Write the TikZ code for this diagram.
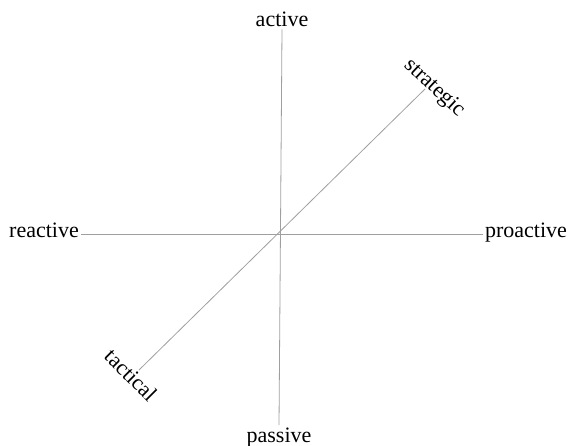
\documentclass[tikz,border=0pt]{standalone}
\usepackage{fontspec}
\setmainfont{Liberation Serif}
\usepackage{tikz}

\begin{document}
\begin{tikzpicture}[
    x=1pt, y=-1pt,
    axislabel/.style={font=\fontsize{22}{26}\selectfont, inner sep=2pt},
    axis/.style={draw=gray!75, line width=0.8pt},
]
\useasboundingbox (0,0) rectangle (569,446);

\node[axislabel, anchor=base] (active)    at (282,27)  {active};
\node[axislabel, anchor=base] (passive)   at (279,442) {passive};
\node[axislabel, anchor=base] (reactive)  at (44,237)  {reactive};
\node[axislabel, anchor=base] (proactive) at (526,237) {proactive};
\node[axislabel, rotate=-43] (strategic) at (434,88)  {strategic};
\node[axislabel, rotate=-45] (tactical)  at (131,375) {tactical};

\coordinate (stratend) at (425,89);
\coordinate (tactend)  at (139,370);

\draw[axis] (active.south) -- (passive.north);
\draw[axis] (reactive.mid east) -- (proactive.mid west);
\draw[axis] (tactend) -- (stratend);
\end{tikzpicture}
\end{document}
